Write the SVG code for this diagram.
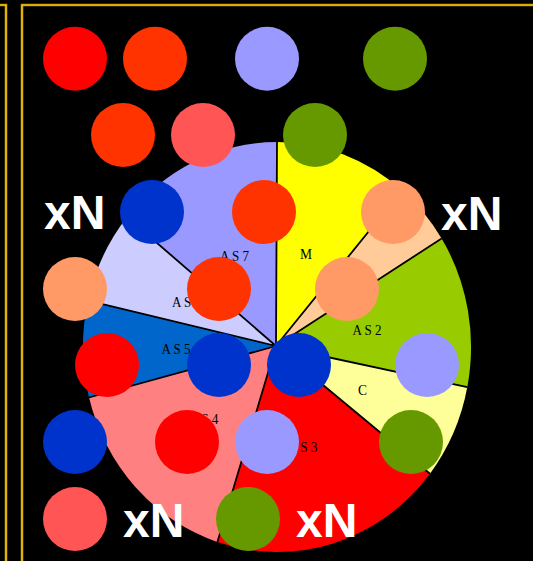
<svg xmlns="http://www.w3.org/2000/svg" width="533" height="561" viewBox="0 0 533 561">
<style>
.fo{fill:none;stroke:#B88A00;stroke-width:2.6}
.fi{fill:none;stroke:#FFD21A;stroke-width:1.1}
.sep{stroke:#000;stroke-width:1.8;fill:none}
.lbl{font-family:"Liberation Serif","Times New Roman",serif;font-size:15px;fill:#000}
.xn{font-family:"Liberation Sans",Arial,sans-serif;font-size:48px;font-weight:bold;fill:#fff}
.red{fill:#FF0000}.org{fill:#FF3300}.lav{fill:#9999FF}.grn{fill:#669900}
.sal{fill:#FF5555}.blu{fill:#0033CC}.pch{fill:#FF9966}
</style>
<rect x="0" y="0" width="533" height="561" fill="#000"/>
<g id="frames">
<path class="fo" d="M-10,5 H6 V570"/>
<path class="fi" d="M-10,5 H6 V570"/>
<path class="fo" d="M540,5 H22 V570"/>
<path class="fi" d="M540,5 H22 V570"/>
</g>
<g id="pie">
<path fill="#9999FF" d="M276,346 L127,217 A194,205 0 0 1 277,142 Z"/>
<path fill="#FFFF00" d="M276,346 L277,142 A194,205 0 0 1 402,190.3 Z"/>
<path fill="#FFCC99" d="M276,346 L402,190.3 A194,205 0 0 1 441.6,238.5 Z"/>
<path fill="#99CC00" d="M276,346 L441.6,238.5 A194,205 0 0 1 467.3,387.1 Z"/>
<path fill="#FFFF99" d="M276,346 L467.3,387.1 A194,205 0 0 1 430,473.7 Z"/>
<path fill="#FF0000" d="M276,346 L430,473.7 A194,205 0 0 1 217.4,542 Z"/>
<path fill="#FF8080" d="M276,346 L217.4,542 A194,205 0 0 1 89,397.5 Z"/>
<path fill="#0066CC" d="M276,346 L89,397.5 A194,205 0 0 1 88,300.6 Z"/>
<path fill="#CCCCFF" d="M276,346 L88,300.6 A194,205 0 0 1 127,217 Z"/>
</g>
<g id="connectors">
<path class="sep" d="M276,346 L277,142 M276,346 L402,190.3 M276,346 L441.6,238.5 M276,346 L467.3,387.1 M276,346 L430,473.7 M276,346 L217.4,542 M276,346 L89,397.5 M276,346 L88,300.6 M276,346 L127,217"/>
</g>
<g id="labels">
<text class="lbl" x="220" y="261" textLength="29" lengthAdjust="spacingAndGlyphs">A S 7</text>
<text class="lbl" x="300" y="259" textLength="12" lengthAdjust="spacingAndGlyphs">M</text>
<text class="lbl" x="352.5" y="335" textLength="29" lengthAdjust="spacingAndGlyphs">A S 2</text>
<text class="lbl" x="358" y="395" textLength="9" lengthAdjust="spacingAndGlyphs">C</text>
<text class="lbl" x="288" y="452" textLength="29.5" lengthAdjust="spacingAndGlyphs">A S 3</text>
<text class="lbl" x="189" y="423.5" textLength="29.5" lengthAdjust="spacingAndGlyphs">A S 4</text>
<text class="lbl" x="161.5" y="354" textLength="29" lengthAdjust="spacingAndGlyphs">A S 5</text>
<text class="lbl" x="172" y="307" textLength="29" lengthAdjust="spacingAndGlyphs">A S 6</text>
</g>
<g id="c1"><circle class="red" cx="75" cy="58.7" r="32"/></g>
<g id="c2"><circle class="org" cx="155" cy="58.7" r="32"/></g>
<g id="c3"><circle class="lav" cx="267" cy="58.7" r="32"/></g>
<g id="c4"><circle class="grn" cx="395" cy="58.7" r="32"/></g>
<g id="c5"><circle class="org" cx="123" cy="135" r="32"/></g>
<g id="c6"><circle class="sal" cx="203" cy="135" r="32"/></g>
<g id="c7"><circle class="grn" cx="315" cy="135" r="32"/></g>
<g id="c8"><circle class="blu" cx="152" cy="212" r="32"/></g>
<g id="c9"><circle class="org" cx="264" cy="212" r="32"/></g>
<g id="c10"><circle class="pch" cx="393" cy="212" r="32"/></g>
<g id="c11"><circle class="pch" cx="75" cy="289" r="32"/></g>
<g id="c12"><circle class="org" cx="219" cy="289" r="32"/></g>
<g id="c13"><circle class="pch" cx="347" cy="289" r="32"/></g>
<g id="c14"><circle class="red" cx="107" cy="365" r="32"/></g>
<g id="c15"><circle class="blu" cx="219" cy="365" r="32"/></g>
<g id="c16"><circle class="blu" cx="299" cy="365" r="32"/></g>
<g id="c17"><circle class="lav" cx="427" cy="365" r="32"/></g>
<g id="c18"><circle class="blu" cx="75" cy="442" r="32"/></g>
<g id="c19"><circle class="red" cx="187" cy="442" r="32"/></g>
<g id="c20"><circle class="lav" cx="267" cy="442" r="32"/></g>
<g id="c21"><circle class="grn" cx="411" cy="442" r="32"/></g>
<g id="c22"><circle class="sal" cx="75" cy="519" r="32"/></g>
<g id="c23"><circle class="grn" cx="248" cy="519" r="32"/></g>
<g id="multipliers">
<text class="xn" x="44" y="229">xN</text>
<text class="xn" x="441" y="230">xN</text>
<text class="xn" x="123" y="537">xN</text>
<text class="xn" x="296" y="537">xN</text>
</g>
</svg>
